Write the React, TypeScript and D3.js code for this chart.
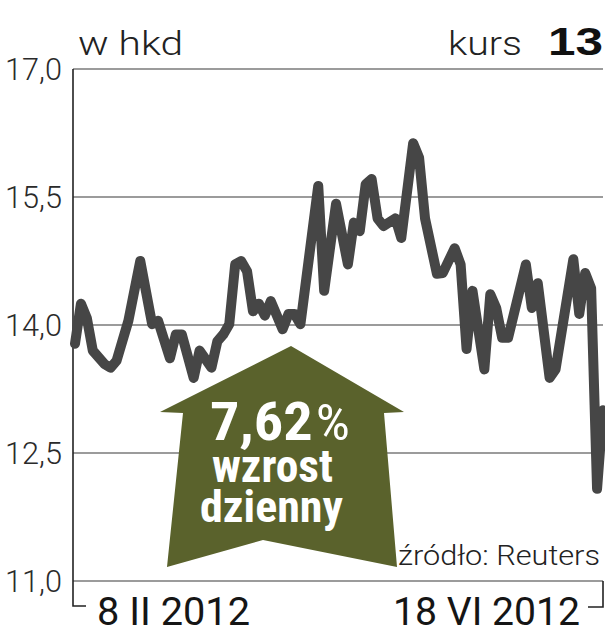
import React from 'react';
import * as d3 from 'd3';

// trading-day index (0 = 8 II 2012, 89 = 18 VI 2012) and close price in HKD
const days = [
  0, 1, 2, 3, 5, 6, 7, 9, 11, 13, 14, 16, 17, 18, 20, 21, 23, 24, 25, 26,
  27, 28, 29, 30, 31, 32, 33, 35, 36, 37, 38, 41, 42, 44, 46, 47, 48, 49, 50, 51,
  52, 54, 55, 57, 58, 59, 61, 62, 64, 65, 66, 67, 69, 70, 71, 72, 73, 76, 77, 78,
  80, 81, 84, 85, 86, 87, 88, 89,
];
const prices = [
  13.78, 14.25, 14.08, 13.7, 13.54, 13.5, 13.58, 14.05, 14.75, 14.01, 14.05, 13.61, 13.89, 13.89, 13.38, 13.7, 13.5, 13.81, 13.89, 14.01,
  14.71, 14.75, 14.63, 14.16, 14.25, 14.11, 14.28, 13.95, 14.13, 14.13, 14.01, 15.63, 14.4, 15.42, 14.71, 15.2, 15.1, 15.65, 15.71, 15.25,
  15.16, 15.25, 15.02, 16.13, 15.96, 15.25, 14.6, 14.61, 14.9, 14.71, 13.72, 14.4, 13.48, 14.36, 14.2, 13.85, 13.85, 14.71, 14.2, 14.49,
  13.38, 13.48, 14.77, 14.13, 14.61, 14.43, 12.08, 13.0,
];
const yTicks = [17.0, 15.5, 14.0, 12.5, 11.0];
const dateLabels = ['8 II 2012', '18 VI 2012'];
const unitLabel = 'w hkd';
const sourceLabel = 'źródło: Reuters';
const changeLabel = '7,62';
const changeLines = ['wzrost', 'dzienny'];

const W = 605, H = 640;
const left = 73, right = 603, top = 69, bottom = 581;

const LIGHT = "'Roboto Light', 'Lato Light', 'Open Sans Light', Roboto, 'Liberation Sans', sans-serif";
const REG = "Roboto, 'Liberation Sans', sans-serif";
const COND = "'Liberation Sans Narrow', 'Roboto Condensed', 'Liberation Sans', sans-serif";

export default function App() {
  const x = d3.scaleLinear().domain([0, 89]).range([75, 603]);
  const y = d3.scaleLinear().domain([11, 17]).range([bottom, top]);
  const line = d3.line<number>().x((d, i) => x(days[i])).y(d => y(d));
  const fmt = (v: number) => v.toFixed(1).replace('.', ',');

  // arrow shape
  const arrow = [
    [291, 346], [404, 412], [384, 413], [397, 567], [263, 540],
    [167, 567], [183, 413], [160, 412],
  ];

  return (
    <svg width={W} height={H} style={{ position: 'absolute', left: 0, top: 0, background: '#fff' }}>
      {yTicks.map(t => (
        <g key={t}>
          <line x1={left} x2={right} y1={y(t)} y2={y(t)} stroke="#9b9b9b" strokeWidth={2} />
          <text x={62} y={y(t)} dy="0.36em" textAnchor="end" fontFamily={LIGHT} fontWeight={300}
            fontSize={31} fill="#2a2a2a" textLength={57} lengthAdjust="spacingAndGlyphs">{fmt(t)}</text>
        </g>
      ))}
      {/* left axis and bottom brackets */}
      <path d={`M${left},${top} V606 H86`} fill="none" stroke="#222" strokeWidth={1.6} />
      <path d={`M${right},${bottom} V607 H588`} fill="none" stroke="#222" strokeWidth={1.6} />

      <text x={78} y={55} fontFamily={LIGHT} fontWeight={300} fontSize={34} fill="#222"
        textLength={105} lengthAdjust="spacingAndGlyphs">{unitLabel}</text>
      <text x={448} y={55} fontFamily={LIGHT} fontWeight={300} fontSize={34} fill="#222"
        textLength={74} lengthAdjust="spacingAndGlyphs">kurs</text>
      <text x={548} y={55} fontFamily="'Liberation Sans', Roboto, sans-serif" fontWeight={700} fontSize={38} fill="#111"
        textLength={55} lengthAdjust="spacingAndGlyphs">13</text>

      <polygon points={arrow.map(p => p.join(',')).join(' ')} fill="#5a622c" />

      <path d={line(prices) || ''} fill="none" stroke="#464646" strokeWidth={10}
        strokeLinejoin="round" strokeLinecap="round" />

      <text x={210} y={440} fontFamily={COND} fontSize={54} fill="#fff"
        textLength={140} lengthAdjust="spacingAndGlyphs">
        <tspan fontWeight={700}>{changeLabel}</tspan>
        <tspan fontWeight={400} fontSize={50} dx={3}>%</tspan>
      </text>
      <text x={212} y={482} fontFamily={COND} fontWeight={700} fontSize={47} fill="#fff"
        textLength={121} lengthAdjust="spacingAndGlyphs">{changeLines[0]}</text>
      <text x={200} y={522} fontFamily={COND} fontWeight={700} fontSize={45} fill="#fff"
        textLength={143} lengthAdjust="spacingAndGlyphs">{changeLines[1]}</text>

      <text x={398} y={565} fontFamily={LIGHT} fontWeight={300} fontSize={27} fill="#222"
        textLength={202} lengthAdjust="spacingAndGlyphs">{sourceLabel}</text>

      <text x={97} y={625} fontFamily={REG} fontWeight={400} fontSize={39} fill="#151515"
        textLength={153} lengthAdjust="spacingAndGlyphs">{dateLabels[0]}</text>
      <text x={393} y={625} fontFamily={REG} fontWeight={400} fontSize={39} fill="#151515"
        textLength={187} lengthAdjust="spacingAndGlyphs">{dateLabels[1]}</text>
    </svg>
  );
}
